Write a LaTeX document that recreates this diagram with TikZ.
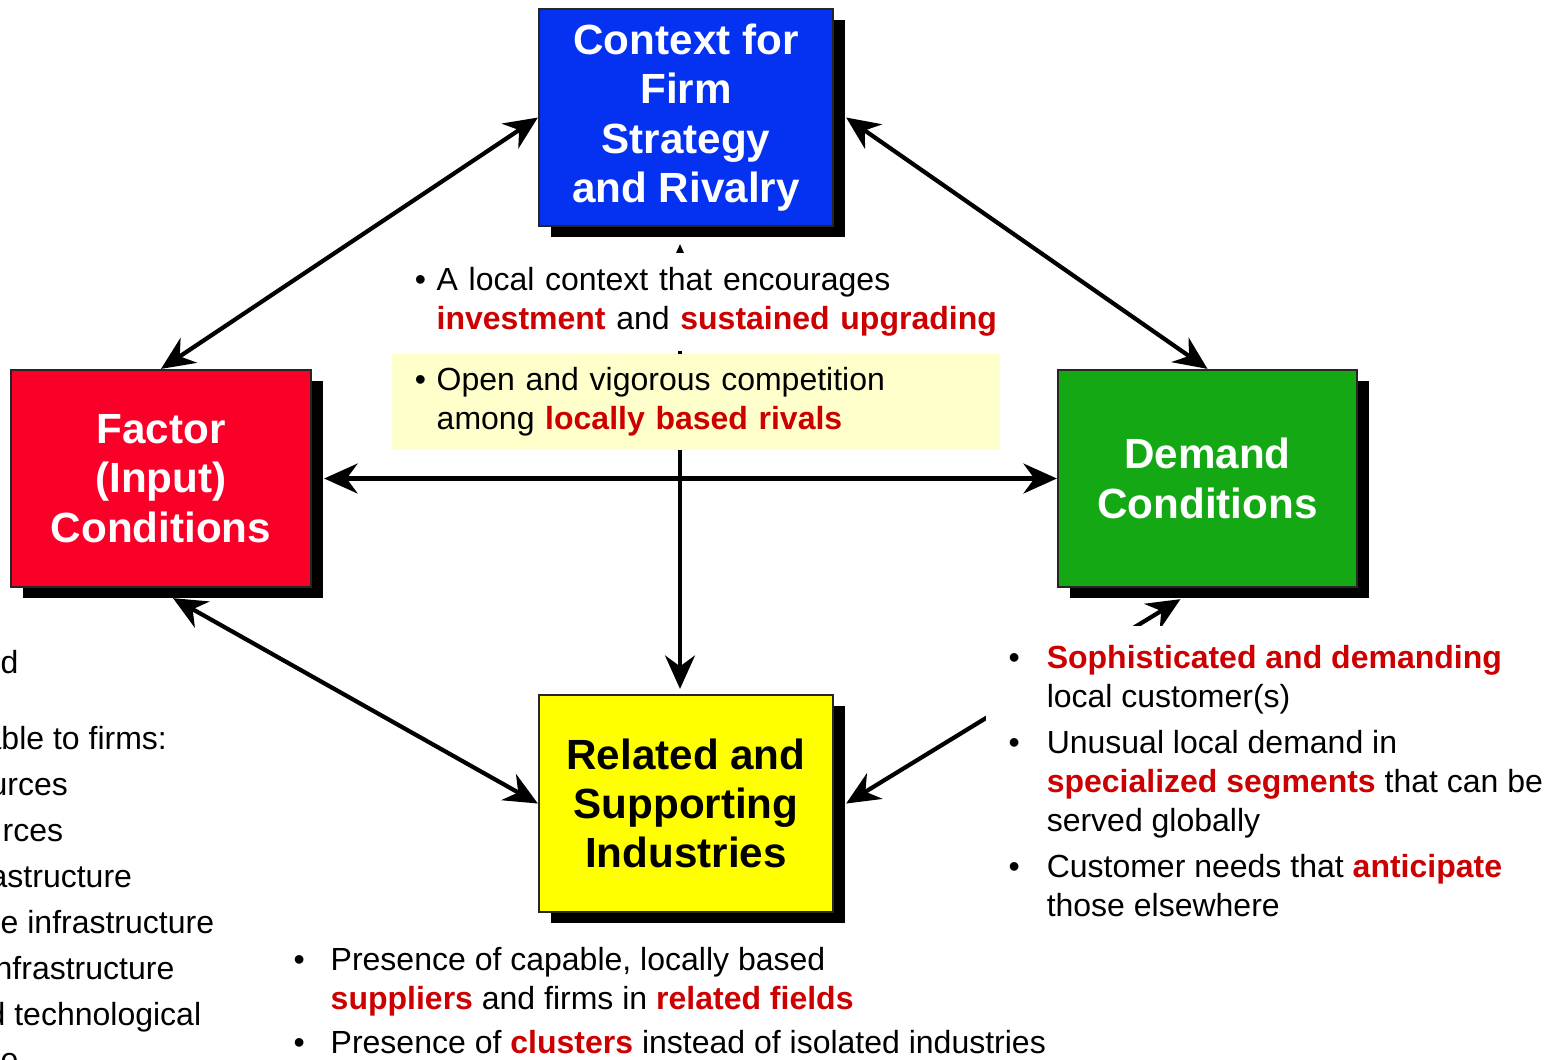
\documentclass[tikz,border=0pt]{standalone}
\usepackage{fontspec}
\setmainfont{Liberation Sans}
\usepackage{xcolor}
\usepackage{tikz}
\usetikzlibrary{arrows.meta, positioning, shadows}

\definecolor{ctxblue}{RGB}{5,50,240}
\definecolor{factred}{RGB}{250,0,40}
\definecolor{demgreen}{RGB}{20,168,20}
\definecolor{relyellow}{RGB}{255,255,0}
\definecolor{hired}{RGB}{204,0,0}
\definecolor{paleyellow}{RGB}{255,255,204}

\newcommand{\hi}[1]{\textcolor{hired}{\textbf{#1}}}
\newcommand{\bodysize}{\fontsize{9.1pt}{11.1pt}\selectfont}
\newcommand{\titlesize}{\fontsize{12pt}{14pt}\selectfont\bfseries}

\begin{document}
\begin{tikzpicture}[
  x=0.01cm, y=-0.01cm,
  box/.style={rectangle, draw=black!85, line width=0.6pt,
    minimum width=2.94cm, minimum height=2.17cm, inner sep=0pt,
    font=\titlesize, align=center,
    drop shadow={shadow xshift=0.12cm, shadow yshift=-0.11cm,
      fill=black, opacity=1}},
  note/.style={font=\bodysize, align=left, inner sep=0pt},
  link/.style={{Stealth[length=9.5pt,width=8.5pt]}-{Stealth[length=9.5pt,width=8.5pt]},
    line width=1.2pt}
]
  \useasboundingbox (0,0) rectangle (1552,1059);

  \node[box, fill=ctxblue, text=white] (C) at (686,117.5)
    {Context for\\Firm\\Strategy\\and Rivalry};
  \node[box, fill=factred, text=white, minimum width=3cm] (F) at (161,478.5)
    {Factor\\(Input)\\Conditions};
  \node[box, fill=demgreen, text=white, minimum width=2.99cm] (D) at (1207.5,478.5)
    {Demand\\Conditions};
  \node[box, fill=relyellow] (R) at (686,803.5)
    {Related and\\Supporting\\Industries};

  %% the diamond of links
  \draw[link] (C.west) -- (F.north);
  \draw[link] ([xshift=0.12cm]C.east) -- (D.north);
  \draw[link] ([xshift=0.12cm]F.east) -- (D.west);
  \draw[link] ([xshift=-0.06cm,yshift=-0.17cm]C.south) --
    ([xshift=-0.06cm,yshift=0.05cm]R.north);
  \draw[link] ([xshift=0.12cm,yshift=-0.1cm]F.south) -- (R.west);
  \draw[link] ([xshift=0.12cm]R.east) --
    ([xshift=-0.27cm,yshift=-0.11cm]D.south);

  %% notes (white ones hide parts of the links)
  \node[note, fill=white, text width=5.9cm, inner xsep=0.1cm,
    minimum height=0.98cm] (ctxnote) at (710,302)
    {\textbullet\ A local context that encourages\\
     \hphantom{\textbullet\ }\hi{investment} and \hi{sustained upgrading}};

  \node[note, fill=paleyellow, text width=5.62cm, inner xsep=0.23cm,
    minimum height=0.96cm] (rivalnote) at (696,402)
    {\textbullet\ Open and vigorous competition\\
     \hphantom{\textbullet\ }among \hi{locally based rivals}};

  \node[note, fill=white, anchor=north west, inner xsep=0.23cm,
    inner ysep=0.15cm] (demnote) at (985,625)
    {\begin{tabular}{@{}p{0.38cm}@{}l@{}}
      \textbullet & \hi{Sophisticated and demanding}\\
                  & local customer(s)\\[2pt]
      \textbullet & Unusual local demand in\\
                  & \hi{specialized segments} that can be\\
                  & served globally\\[2pt]
      \textbullet & Customer needs that \hi{anticipate}\\
                  & those elsewhere
    \end{tabular}};

  \node[note, anchor=north west] (relnote) at (293,942)
    {\begin{tabular}{@{}p{0.37cm}@{}l@{}}
      \textbullet & Presence of capable, locally based\\
                  & \hi{suppliers} and firms in \hi{related fields}\\[1.6pt]
      \textbullet & Presence of \hi{clusters} instead of isolated industries
    \end{tabular}};

  \node[note, anchor=north west, font=\fontsize{9.1pt}{13.05pt}\selectfont]
    (factnote) at (0,650)
    {d\\[8.5pt]
     \hspace*{-0.17cm}able to firms:\\
     \hspace*{-0.11cm}urces\\
     \hspace*{0.02cm}rces\\
     \hspace*{-0.11cm}astructure\\
     e infrastructure\\
     \hspace*{-0.06cm}nfrastructure\\
     \hspace*{-0.13cm}d technological\\
     e};

\end{tikzpicture}
\end{document}
